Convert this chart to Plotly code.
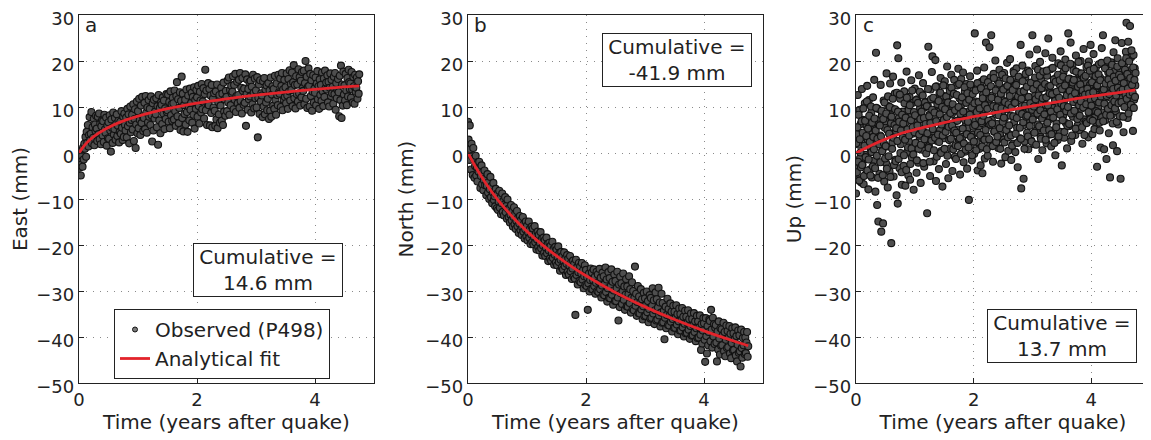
import numpy as np
import plotly.graph_objects as go

# ---------------- data ----------------
sample_step = 0.01  # years between plotted observations

east_obs = [
    -1.8, -3.2, 0.4, -4.9, -2.5, -0.6, -3.0, 1.2, -1.4, 2.0,
    0.9, 3.5, -0.8, 4.6, 2.2, 6.1, 1.4, 3.9, 7.8, 2.8,
    4.2, 8.9, 2.1, 5.6, 3.3, 7.4, 1.7, 6.2, 4.8, 8.1,
    5.3, 2.6, 7.9, 4.1, 8.6, 3.0, 6.4, 1.9, 5.8, 7.1,
    3.8, 6.9, 2.4, 8.3, 5.1, 4.4, 7.7, 1.6, 6.0, 3.2,
    6.7, 3.1, 8.2, 4.9, 0.3, 7.3, 5.5, 2.2, 8.8, 4.0,
    5.2, 7.6, 2.9, 6.3, 8.4, 3.7, 5.9, 7.0, 2.3, 4.6,
    6.8, 4.2, 9.1, 5.5, 2.8, 7.9, 3.5, 8.6, 6.1, 4.9,
    7.7, 3.4, 9.6, 5.8, 8.4, 2.1, 6.6, 10.1, 4.5, 7.2,
    8.3, 5.1, 10.6, 2.6, 7.4, 9.5, 1.1, 6.2, 11.2, 4.3,
    9.1, 5.4, 11.8, 7.2, 3.9, 10.3, 6.5, 12.2, 8.0, 4.8,
    7.6, 10.9, 5.2, 12.4, 8.8, 4.4, 9.9, 6.7, 11.5, 7.9,
    9.6, 6.1, 12.3, 8.2, 2.5, 10.8, 4.9, 11.6, 7.5, 9.0,
    8.4, 11.9, 5.6, 10.2, 1.8, 12.6, 7.1, 9.8, 4.3, 11.0,
    10.5, 6.3, 12.1, 8.6, 11.4, 5.2, 9.7, 7.4, 12.8, 8.9,
    9.3, 12.7, 6.8, 11.1, 5.4, 13.4, 8.2, 10.6, 7.0, 12.0,
    10.8, 7.3, 13.6, 9.1, 5.9, 12.4, 15.4, 8.0, 11.7, 6.5,
    9.8, 13.2, 5.0, 11.3, 16.6, 7.6, 12.9, 4.7, 10.4, 8.5,
    11.6, 6.2, 13.8, 8.9, 4.6, 12.5, 10.1, 7.1, 14.0, 9.4,
    10.9, 13.1, 6.6, 12.2, 8.3, 14.3, 5.3, 11.5, 9.6, 13.7,
    12.1, 7.9, 14.6, 10.2, 6.4, 13.3, 11.4, 8.8, 15.0, 9.5,
    11.2, 14.1, 7.5, 12.8, 18.1, 9.3, 13.6, 6.1, 10.7, 15.2,
    10.4, 13.9, 6.0, 12.5, 8.7, 14.8, 5.6, 11.8, 9.9, 13.0,
    9.2, 5.9, 13.4, 7.3, 14.9, 5.4, 11.1, 8.4, 12.6, 6.6,
    10.3, 14.2, 7.0, 12.9, 6.1, 15.3, 9.0, 11.7, 8.1, 13.5,
    12.2, 9.1, 15.8, 11.0, 16.4, 8.3, 13.7, 10.4, 14.6, 12.9,
    13.3, 16.7, 9.5, 14.8, 11.6, 17.2, 8.9, 12.4, 15.5, 10.8,
    12.6, 15.9, 9.8, 17.4, 11.3, 14.2, 8.6, 16.3, 13.5, 10.5,
    14.0, 10.9, 17.1, 5.9, 12.8, 16.0, 9.4, 13.9, 11.7, 15.4,
    12.3, 15.7, 8.8, 14.4, 10.6, 17.0, 13.1, 9.7, 16.2, 11.9,
    13.6, 9.9, 16.5, 3.4, 12.0, 14.9, 8.5, 15.8, 11.2, 13.0,
    12.5, 7.8, 15.6, 10.1, 16.3, 8.4, 13.8, 11.0, 14.7, 9.3,
    11.8, 15.2, 7.4, 13.6, 9.2, 16.4, 7.9, 12.7, 14.5, 10.3,
    13.9, 9.6, 16.8, 11.5, 8.3, 15.1, 12.6, 10.4, 17.0, 13.2,
    12.9, 16.2, 10.0, 14.6, 17.4, 9.3, 13.8, 11.6, 15.9, 12.2,
    14.3, 10.8, 17.3, 12.5, 9.6, 16.1, 13.4, 18.0, 11.4, 15.0,
    13.7, 17.5, 10.2, 15.4, 19.1, 11.9, 14.8, 9.7, 16.7, 12.8,
    14.9, 11.2, 18.2, 13.0, 16.5, 10.3, 15.7, 12.1, 17.6, 14.1,
    13.5, 17.9, 10.6, 15.2, 20.0, 11.8, 16.6, 9.8, 14.4, 18.4,
    14.6, 10.1, 17.2, 12.4, 15.8, 9.2, 13.3, 16.9, 11.0, 14.0,
    13.1, 16.4, 10.4, 15.1, 17.8, 11.7, 14.5, 9.6, 16.0, 12.6,
    14.8, 11.3, 17.5, 13.4, 10.2, 16.2, 12.2, 17.9, 14.1, 15.3,
    13.8, 16.9, 11.0, 15.5, 10.1, 14.2, 17.3, 12.4, 15.9, 13.0,
    14.4, 10.7, 16.6, 12.8, 17.4, 9.4, 15.2, 11.9, 13.7, 16.1,
    13.2, 8.0, 16.8, 11.5, 19.0, 7.6, 14.9, 10.3, 17.7, 12.7,
    14.7, 11.4, 17.2, 13.6, 10.4, 16.3, 12.3, 18.1, 15.4, 13.9,
    15.1, 12.0, 17.6, 13.8, 11.0, 16.5, 14.5, 10.7, 17.0, 13.3,
    14.2, 16.4, 11.8, 15.6, 12.9, 17.1,
]

north_obs = [
    6.8, 2.9, -1.5, 6.0, 0.8, -3.6, 2.0, -0.7, -4.8, 1.1,
    -1.2, -5.4, -2.8, -0.6, -4.9, -3.1, -6.2, -2.0, -4.1, -1.9,
    -3.4, -7.6, -5.0, -2.7, -6.8, -4.2, -8.1, -5.9, -3.8, -7.0,
    -5.5, -9.2, -7.1, -4.6, -8.6, -6.3, -10.0, -7.9, -5.2, -9.6,
    -7.2, -10.9, -8.6, -6.5, -10.2, -9.4, -11.6, -7.8, -8.9, -12.0,
    -9.0, -12.4, -10.6, -8.2, -11.9, -9.7, -13.3, -10.9, -8.8, -12.8,
    -10.4, -13.6, -11.2, -9.6, -12.9, -11.5, -14.3, -10.1, -12.2, -13.9,
    -12.0, -15.1, -13.4, -11.3, -14.6, -12.7, -16.0, -13.9, -11.8, -15.5,
    -13.2, -16.5, -14.8, -12.6, -15.9, -14.1, -17.4, -15.3, -13.7, -16.8,
    -14.6, -17.8, -16.2, -13.9, -17.1, -15.4, -18.6, -16.6, -14.9, -18.1,
    -15.8, -19.0, -17.3, -14.9, -18.4, -16.5, -19.8, -17.7, -16.0, -19.3,
    -16.4, -19.9, -18.3, -15.9, -19.4, -17.5, -21.0, -18.8, -17.1, -20.4,
    -17.8, -21.2, -19.6, -17.2, -20.7, -18.7, -22.3, -20.1, -18.4, -21.7,
    -19.0, -22.4, -20.6, -18.4, -21.8, -19.8, -23.5, -21.2, -19.5, -22.9,
    -20.2, -23.4, -21.7, -19.3, -22.8, -20.9, -24.3, -22.1, -20.4, -23.8,
    -21.0, -24.4, -22.6, -20.3, -23.7, -21.8, -25.6, -23.2, -21.5, -24.9,
    -22.4, -25.3, -23.5, -21.6, -24.6, -22.9, -26.5, -24.1, -22.2, -25.8,
    -23.0, -26.4, -24.5, -22.4, -25.7, -23.8, -27.4, -25.1, -23.4, -26.9,
    -24.1, -27.3, -35.2, -23.2, -26.5, -24.8, -28.6, -25.9, -23.9, -27.8,
    -24.7, -28.1, -26.2, -23.9, -27.5, -25.5, -29.4, -26.8, -24.4, -28.7,
    -25.4, -28.9, -27.0, -34.1, -28.3, -26.2, -30.1, -27.6, -25.1, -29.5,
    -26.0, -29.6, -27.6, -25.3, -28.9, -26.9, -30.6, -28.2, -25.8, -30.0,
    -26.4, -30.2, -28.0, -25.2, -29.6, -27.1, -31.4, -28.8, -26.0, -30.7,
    -26.8, -30.9, -28.4, -24.9, -30.2, -27.5, -32.3, -29.4, -25.9, -31.5,
    -27.2, -31.6, -28.9, -25.3, -30.8, -28.0, -33.0, -29.9, -26.4, -32.2,
    -27.8, -32.2, -29.4, -25.8, -31.4, -36.4, -28.6, -33.5, -26.9, -30.5,
    -28.3, -32.8, -30.1, -26.2, -31.9, -29.0, -34.1, -30.8, -27.4, -33.3,
    -29.0, -33.4, -30.7, -26.8, -32.6, -29.6, -34.7, -31.5, -28.1, -33.9,
    -30.0, -34.2, -31.5, -24.7, -33.2, -30.6, -35.4, -32.4, -28.9, -34.8,
    -31.2, -34.9, -32.5, -29.6, -34.0, -31.8, -36.2, -33.3, -30.4, -35.5,
    -31.6, -35.4, -33.0, -30.1, -34.6, -32.2, -36.8, -33.9, -30.9, -36.0,
    -31.5, -35.8, -33.2, -29.4, -34.9, -32.0, -37.2, -34.2, -30.3, -36.4,
    -31.8, -36.2, -33.6, -29.3, -35.3, -32.5, -37.7, -34.7, -30.6, -36.9,
    -32.6, -36.8, -34.3, -40.5, -35.8, -33.4, -38.1, -35.2, -31.7, -37.4,
    -33.9, -37.5, -35.3, -32.7, -36.7, -34.5, -38.8, -36.1, -33.2, -38.0,
    -34.5, -38.0, -35.8, -33.1, -37.3, -35.0, -39.4, -36.6, -33.8, -38.6,
    -35.0, -38.6, -36.3, -33.7, -37.9, -35.6, -39.9, -37.1, -34.3, -39.2,
    -35.6, -39.1, -36.9, -34.2, -38.4, -36.1, -40.4, -37.6, -34.9, -39.7,
    -36.1, -39.6, -37.4, -34.8, -38.9, -36.6, -40.9, -38.1, -35.4, -40.2,
    -36.6, -40.1, -37.9, -35.3, -39.5, -42.8, -37.2, -41.4, -38.6, -35.9,
    -37.0, -40.6, -45.4, -35.9, -39.8, -43.6, -37.6, -41.8, -38.9, -36.2,
    -36.5, -40.9, -34.1, -38.4, -42.3, -35.8, -39.9, -37.2, -41.5, -38.0,
    -37.4, -41.2, -45.3, -38.8, -42.7, -36.6, -40.3, -43.8, -38.1, -41.9,
    -38.3, -41.8, -39.6, -36.9, -43.1, -38.9, -44.2, -40.6, -37.5, -42.4,
    -38.7, -42.2, -40.1, -37.6, -43.6, -39.3, -44.6, -41.3, -38.1, -42.9,
    -39.2, -42.8, -40.5, -37.9, -44.0, -39.8, -45.3, -41.7, -38.6, -43.4,
    -39.6, -43.1, -46.4, -38.4, -42.4, -44.5, -40.2, -41.8, -38.9, -43.7,
    -40.1, -43.5, -41.2, -38.9, -44.3, -42.0,
]

up_obs = [
    -8.8, 4.1, -3.2, 12.6, -5.7, 1.8, 9.4, -1.1, 6.3, -6.4,
    13.9, -2.5, 7.2, -6.8, 3.4, 10.8, -0.4, -4.6, 5.9, 14.6,
    2.7, -7.9, 11.5, 6.1, -3.6, 0.9, 8.8, -5.3, 4.5, 12.1,
    -1.7, 15.9, 5.2, -8.4, 21.8, 2.9, -11.3, 9.6, -14.9, 7.1,
    -4.5, 3.8, 14.8, -17.1, 8.2, 0.6, -15.3, 11.4, -6.2, 5.5,
    6.9, -2.2, 17.3, 1.4, -7.5, 10.2, 4.4, -4.0, 15.1, 8.0,
    -19.6, 9.7, 2.3, 16.6, -5.1, 6.4, 12.9, -1.5, 4.8, -9.2,
    23.4, -11.0, 20.6, 7.6, -3.3, 11.8, 1.9, 15.3, -6.9, 5.3,
    9.0, -2.8, 13.4, 3.1, -7.1, 6.7, 17.7, 0.2, 10.5, -4.9,
    2.5, 12.2, -5.8, 7.9, 15.8, -1.0, 4.2, 10.9, -8.0, 6.6,
    14.0, 1.3, 8.6, -4.3, 11.7, 5.9, -2.1, 16.9, 3.6, 9.8,
    -6.5, 7.3, 12.8, 0.7, 15.2, 4.6, -3.0, 9.9, 2.0, 11.1,
    6.2, -13.1, 10.4, 23.1, 1.5, 8.3, -5.0, 13.8, 3.9, 17.6,
    21.0, 4.7, -1.8, 11.6, 7.8, 20.2, -6.1, 14.5, 2.6, 9.3,
    8.9, -3.5, 13.0, 5.0, 16.3, 0.4, 10.7, -7.3, 6.8, 12.4,
    3.2, 15.6, 7.5, -2.4, 11.3, 18.8, 5.6, -5.5, 9.6, 14.2,
    12.6, 1.0, 17.0, 8.4, -3.9, 10.1, 4.3, 15.9, -0.8, 6.9,
    -1.3, 9.2, 14.7, 5.1, 18.3, 2.8, 11.9, -4.7, 7.7, 16.1,
    10.6, 3.5, 17.5, -2.0, 8.0, 13.3, 0.3, 6.1, 15.0, -3.4,
    5.4, 12.0, -10.2, 9.1, 16.7, 1.7, 14.1, -1.6, 8.8, 4.0,
    13.7, -0.2, 26.0, 7.0, 11.2, 2.4, 17.9, -3.8, 9.5, 5.8,
    0.9, 10.3, -2.7, 15.5, 6.5, -4.4, 12.7, 3.0, 18.6, -1.2,
    9.4, 24.0, 3.7, 14.0, -0.6, 11.0, 6.0, 23.0, 1.6, 16.4,
    25.6, 7.2, 12.5, -1.9, 17.2, 4.6, 10.1, 20.1, 2.2, 13.9,
    6.3, 15.7, 1.1, 10.8, 18.1, 3.9, 12.3, -2.3, 8.6, 16.9,
    11.4, 2.9, 17.4, 7.5, -0.9, 14.3, 5.2, 19.6, 9.9, 0.5,
    4.1, 13.0, 20.4, 8.1, -1.5, 15.2, 10.6, 2.0, 17.8, 6.7,
    14.6, 0.2, 11.5, 18.4, 5.5, -3.1, 16.0, 8.4, 12.9, 3.2,
    23.5, -7.7, 10.2, 19.0, 6.0, -5.6, 13.6, 2.5, 16.5, 8.9,
    12.1, 4.4, 17.9, 0.8, 9.6, 21.4, 6.9, 14.8, 2.7, 11.3,
    25.6, 7.8, 15.1, 1.9, 12.4, 18.9, 4.8, 10.0, 22.5, 6.2,
    -1.3, 13.5, 8.2, 19.8, 3.5, 15.9, 11.0, 0.6, 17.1, 9.1,
    14.2, 5.7, 21.7, 10.4, 2.1, 16.8, 8.5, 24.9, 12.6, 4.0,
    7.4, 18.2, 1.4, 13.1, 20.7, 9.8, 4.9, 15.6, 11.9, -0.5,
    16.3, 6.4, 12.2, 2.8, 19.5, 9.0, 14.9, 4.6, 22.1, 10.7,
    -2.7, 13.8, 8.0, 17.6, 3.3, 11.6, 20.3, 6.5, 15.3, 1.0,
    12.7, 26.0, 5.8, 16.2, 9.3, 24.0, 2.6, 14.0, 19.1, 7.9,
    18.0, 8.7, 13.4, 3.9, 21.2, 10.9, 15.7, 6.0, 12.1, 17.3,
    5.0, 14.4, 20.0, 9.6, 16.9, 2.0, 12.8, 22.6, 7.3, 11.5,
    15.4, 6.8, 18.7, 10.3, 13.6, 3.4, 19.9, 8.6, 14.8, 23.5,
    9.4, 17.2, 4.1, 13.3, 21.5, 7.7, 15.9, 11.2, 18.6, 5.9,
    -3.0, 14.1, 10.0, 19.3, 6.6, 16.4, 1.2, 12.9, 22.8, 8.8,
    25.6, 11.4, 0.8, 15.8, 7.1, 18.9, -1.3, 13.7, 9.8, 17.5,
    4.3, 14.6, -5.3, 12.0, 19.7, 8.3, 16.1, 1.7, 21.9, 10.5,
    17.8, 24.5, 9.1, 13.9, 0.4, 20.6, 6.2, 15.0, 11.7, 18.3,
    -5.6, 12.4, 23.9, 8.0, 16.6, 4.5, 19.4, 10.9, 14.3, 22.0,
    28.3, 15.5, 7.6, 24.2, 12.0, 18.0, 27.6, 9.7, 20.8, 13.2,
    16.2, 4.8, 21.3, 11.6, 18.4, 14.7,
]

# second set of vertical observations, sampled half a step later
up_obs_b = [
    2.1, -4.2, 5.6, -1.9, 8.3, -6.0, 3.0, 0.1, -3.1, 6.9,
    -2.6, 4.4, 9.7, -5.0, 1.6, 7.0, -0.9, 3.7, 11.2, -3.8,
    5.3, -1.4, 8.1, 2.4, -4.9, 10.1, 0.2, 6.6, -2.9, 3.5,
    0.8, 7.5, -3.3, 4.9, 9.8, -0.6, 3.1, -5.4, 6.2, 1.9,
    6.0, -2.0, 3.6, 9.2, 0.4, -4.8, 7.4, 2.1, 11.0, -1.2,
    1.5, 8.6, -3.4, 5.0, 12.3, -0.7, 4.2, 10.0, -5.2, 6.5,
    7.9, 0.9, 11.8, 3.3, -2.6, 6.1, 9.5, -1.8, 5.4, 13.1,
    2.6, 9.0, -1.3, 6.8, 12.7, 0.0, 4.9, -4.2, 8.3, 3.4,
    6.4, -0.5, 10.8, 2.9, 7.7, -3.7, 12.0, 5.1, 1.2, 9.3,
    3.8, 10.4, -2.4, 7.1, 1.0, 13.6, 5.6, -0.3, 8.9, 4.5,
    8.2, 2.2, 11.5, -1.6, 6.0, 10.9, 0.9, 4.0, 13.3, 7.4,
    1.8, 9.0, 4.8, 12.5, -2.2, 7.6, 3.0, 11.0, 6.3, -0.1,
    10.2, 4.3, 13.9, 1.1, 8.0, -1.9, 6.5, 11.7, 2.7, 9.4,
    5.2, 12.0, 0.6, 8.8, 3.3, 14.4, 6.9, -0.8, 10.6, 4.0,
    11.3, 2.4, 8.4, 13.1, 0.0, 6.2, 10.0, 3.8, 14.7, 7.2,
    0.9, 9.5, 4.6, 12.3, 7.8, -0.6, 11.0, 5.7, 2.8, 13.5,
    8.7, 3.1, 14.2, 6.0, 10.6, 0.8, 12.9, 4.9, 9.3, 1.7,
    4.4, 12.6, 7.0, 1.5, 10.0, 15.0, 3.2, 8.5, -0.2, 11.4,
    12.1, 5.3, 9.0, 2.1, 14.3, 7.2, 0.7, 10.9, 4.1, 13.0,
    6.8, 1.2, 11.6, 8.3, 14.9, 3.5, 9.9, -0.5, 12.8, 5.7,
    2.5, 10.8, 6.1, 13.6, 0.6, 8.9, 15.2, 4.4, 11.1, 7.5,
    9.7, 3.9, 14.1, 6.9, 1.4, 11.9, 8.1, 16.0, 2.9, 10.4,
    5.0, 13.2, 0.8, 9.6, 15.4, 7.0, 3.0, 11.8, 6.2, 14.5,
    12.0, 6.4, 1.5, 10.2, 16.3, 4.7, 8.8, 13.6, 2.4, 9.9,
    3.6, 11.6, 8.2, 15.1, 5.4, 0.9, 12.9, 9.7, 17.0, 6.8,
    13.8, 7.7, 2.3, 11.1, 16.2, 5.0, 9.5, 14.6, 3.4, 10.6,
    6.0, 12.4, 15.9, 3.8, 9.9, 1.6, 13.7, 8.0, 17.4, 11.0,
    10.9, 4.2, 14.8, 7.6, 2.2, 12.3, 16.6, 9.0, 5.5, 13.3,
    3.1, 11.8, 8.5, 15.6, 6.7, 13.4, 0.9, 10.3, 17.2, 7.9,
    14.4, 8.1, 3.6, 12.2, 17.6, 5.9, 10.8, 15.3, 2.5, 9.4,
    7.3, 13.9, 10.1, 4.4, 16.4, 11.7, 1.8, 14.9, 8.6, 18.1,
    12.5, 5.8, 16.8, 9.3, 3.1, 14.1, 7.5, 11.9, 17.7, 4.9,
    8.4, 15.0, 2.9, 12.1, 17.9, 6.6, 10.3, 14.4, 5.0, 13.0,
    14.6, 9.0, 4.1, 12.8, 18.5, 7.7, 16.0, 2.2, 11.3, 15.5,
    5.6, 13.3, 9.5, 17.0, 3.6, 12.0, 15.8, 8.3, 19.1, 10.7,
    13.9, 7.1, 16.6, 10.2, 4.6, 14.7, 18.4, 9.1, 12.5, 5.9,
    10.0, 16.1, 6.3, 13.5, 19.4, 8.6, 12.2, 3.8, 15.3, 11.1,
    15.9, 9.2, 13.0, 5.3, 17.7, 11.6, 7.4, 14.4, 19.8, 10.4,
    8.1, 14.9, 11.2, 17.3, 5.6, 13.6, 9.9, 16.4, 3.9, 12.7,
    16.8, 10.6, 6.5, 14.0, 19.0, 8.9, 12.9, 17.9, 7.3, 11.5,
    10.3, 15.4, 7.0, 13.2, 18.3, 5.2, 11.9, 16.7, 9.1, 14.5,
    14.7, 8.8, 17.1, 11.0, 4.9, 15.8, 12.3, 19.6, 7.8, 13.6,
    6.9, 13.8, 10.7, 18.4, 15.1, 8.3, 12.4, 20.1, 9.6, 16.0,
    12.8, 17.5, 8.1, 14.9, 10.4, 19.2, 6.4, 13.9, 16.6, 11.2,
    9.7, 15.7, 12.5, 6.8, 18.8, 14.2, 10.8, 17.0, 8.0, 13.4,
    16.4, 11.1, 19.5, 13.8, 7.9, 15.2, 10.0, 18.1, 12.6, 20.6,
    11.8, 17.2, 14.0, 8.6, 19.9, 12.7, 16.3, 10.5, 22.3, 14.8,
    13.1, 18.6, 9.8, 15.9, 12.2, 17.4,
]

fit_t = [0, 0.05, 0.1, 0.2, 0.3, 0.45, 0.6, 0.8, 1.0, 1.25, 1.5, 1.75,
         2.0, 2.5, 3.0, 3.5, 4.0, 4.5, 4.75]
east_fit = [0, 0.96, 1.76, 3.03, 4.03, 5.22, 6.17, 7.19, 8.02, 8.9, 9.64,
            10.27, 10.84, 11.78, 12.58, 13.24, 13.84, 14.36, 14.6]
north_fit = [0, -1.23, -2.40, -4.58, -6.56, -9.25, -11.65, -14.51, -17.04,
             -19.86, -22.37, -24.63, -26.69, -30.32, -33.45, -36.2, -38.66,
             -40.87, -41.9]
up_fit = [0, 0.33, 0.66, 1.3, 1.9, 2.75, 3.5, 4.4, 5.1, 5.85, 6.6, 7.3, 7.9,
          9.1, 10.2, 11.3, 12.3, 13.2, 13.7]

panel_letters = ["a", "b", "c"]
y_titles = ["East (mm)", "North (mm)", "Up (mm)"]
cumulative_labels = ["Cumulative =<br>14.6 mm", "Cumulative =<br>-41.9 mm",
                     "Cumulative =<br>13.7 mm"]
x_title = "Time (years after quake)"
x_ticks = [0, 2, 4]
y_ticks = [-50, -40, -30, -20, -10, 0, 10, 20, 30]

# ---------------- figure ----------------
PAGE_OFF = 8           # the page body adds an 8 px margin around the plot
W, H = 1151 - PAGE_OFF, 440 - PAGE_OFF
FONT = "DejaVu Sans, Liberation Sans, Arial, sans-serif"
TXT = "#222222"
MARK_FILL = "#4e4e4e"
MARK_EDGE = "#121212"
RED = "#e3242b"


def px_x(px):
    return (px - PAGE_OFF) / W


def px_y(py):
    return 1 - (py - PAGE_OFF) / H


x_px = [(79, 374), (468, 763), (856, 1150)]
y_dom = [px_y(383), px_y(15)]

# (values, time offset) per panel
obs_sets = [[(east_obs, 0.0)], [(north_obs, 0.0)],
            [(up_obs, 0.0), (up_obs_b, 0.005)]]
fit_sets = [east_fit, north_fit, up_fit]

fig = go.Figure()
for i in range(3):
    sfx = "" if i == 0 else str(i + 1)
    for obs, off in obs_sets[i]:
        t_obs = np.round(np.arange(len(obs)) * sample_step + off, 3)
        fig.add_trace(go.Scatter(
            x=t_obs, y=obs, mode="markers", xaxis="x" + sfx, yaxis="y" + sfx,
            showlegend=False, hoverinfo="skip",
            marker=dict(size=7, color=MARK_FILL,
                        line=dict(color=MARK_EDGE, width=1.1)),
        ))
for i in range(3):
    sfx = "" if i == 0 else str(i + 1)
    fig.add_trace(go.Scatter(
        x=fit_t, y=fit_sets[i], mode="lines", xaxis="x" + sfx, yaxis="y" + sfx,
        line=dict(color=RED, width=2.8, shape="spline", smoothing=0.6),
        name="Analytical fit", showlegend=(i == 0), legendrank=2,
    ))
# legend-only entry for the observed markers
fig.add_trace(go.Scatter(
    x=[None], y=[None], mode="markers", name="Observed (P498)",
    marker=dict(size=5, color="#7a7a7a", line=dict(color=MARK_EDGE, width=1)),
    showlegend=True, legendrank=1,
))

layout = dict(
    width=W, height=H,
    margin=dict(l=0, r=0, t=0, b=0),
    paper_bgcolor="white", plot_bgcolor="white",
    font=dict(family=FONT, size=18, color=TXT),
    showlegend=True,
    legend=dict(x=px_x(114), y=px_y(309), xanchor="left", yanchor="top",
                bgcolor="white", bordercolor="#222", borderwidth=1,
                font=dict(size=20, family=FONT, color=TXT),
                itemwidth=30, tracegroupgap=0),
)
annotations = []
for i in range(3):
    sfx = "" if i == 0 else str(i + 1)
    x0, x1 = x_px[i]
    layout["xaxis" + sfx] = dict(
        domain=[px_x(x0), min(px_x(x1), 1.0)], anchor="y" + sfx, range=[0, 5],
        automargin=False, ticklabeloverflow="allow",
        tickvals=x_ticks, ticks="inside", ticklen=5, tickcolor="#222",
        showline=True, mirror=True, linecolor="#222", linewidth=1.4,
        showgrid=True, gridcolor="#8a8a8a", griddash="1px,6px", gridwidth=1,
        zeroline=False, tickfont=dict(size=18, family=FONT, color=TXT),
        title=dict(text=x_title, font=dict(size=20, family=FONT, color=TXT),
                   standoff=4),
    )
    layout["yaxis" + sfx] = dict(
        domain=y_dom, anchor="x" + sfx, range=[-50, 30],
        automargin=False, ticklabeloverflow="allow", ticklabelshift=4,
        tickvals=y_ticks, ticks="inside", ticklen=5, tickcolor="#222",
        showline=True, mirror=True, linecolor="#222", linewidth=1.4,
        showgrid=True, gridcolor="#8a8a8a", griddash="1px,6px", gridwidth=1,
        zeroline=False, tickfont=dict(size=18, family=FONT, color=TXT),
        title=dict(text=y_titles[i], font=dict(size=20, family=FONT, color=TXT),
                   standoff=6),
    )
    annotations.append(dict(
        xref="paper", yref="paper", x=px_x(x0 + 12), y=px_y(25),
        text=panel_letters[i], showarrow=False, xanchor="center",
        yanchor="middle", font=dict(size=20, family=FONT, color=TXT),
    ))

box_centers = [(267.5, 270), (676.5, 59.5), (1062, 335.5)]
for i in range(3):
    cx, cy = box_centers[i]
    annotations.append(dict(
        xref="paper", yref="paper", x=px_x(cx), y=px_y(cy),
        text=cumulative_labels[i], showarrow=False, xanchor="center",
        yanchor="middle", align="center",
        font=dict(size=20, family=FONT, color=TXT),
        bgcolor="white", bordercolor="#222", borderwidth=1, borderpad=3,
        width=142, height=46,
    ))
layout["annotations"] = annotations
fig.update_layout(**layout)

fig.write_html("out.html")
